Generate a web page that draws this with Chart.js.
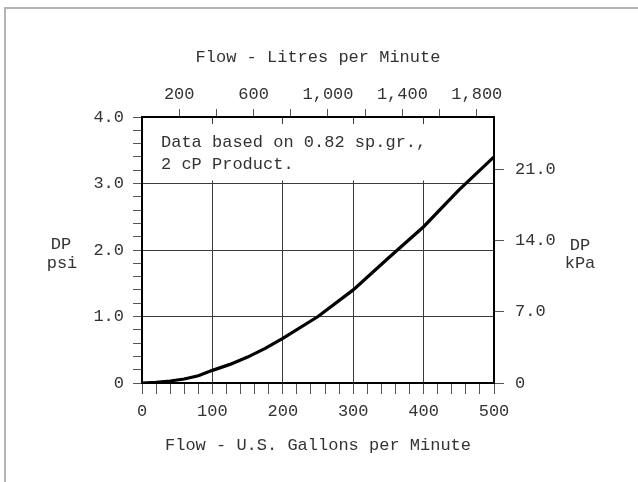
<!DOCTYPE html>
<html>
<head>
<meta charset="utf-8">
<script src="https://cdn.jsdelivr.net/npm/chart.js@4.4.1/dist/chart.umd.min.js"></script>
<style>
  html, body { margin: 0; padding: 0; background: #fff; overflow: hidden; }
  #wrap { position: relative; width: 638px; height: 482px; }
  #frame { position: absolute; left: 4px; top: 7px; width: 700px; height: 600px;
           border-top: 2px solid #b4b4b4; border-left: 2px solid #b4b4b4; }
  #chart { position: absolute; left: 0; top: 0; }
</style>
</head>
<body>
<div id="wrap">
  <div id="frame"></div>
  <canvas id="chart" width="638" height="482"></canvas>
</div>
<script>
// flow in US gallons per minute vs pressure drop in psi
const flowGpm = [0, 20, 40, 60, 80, 100, 125, 150, 175, 200, 250, 300, 350, 400, 450, 500];
const dpPsi   = [0, 0.01, 0.03, 0.06, 0.11, 0.19, 0.28, 0.39, 0.52, 0.67, 1.0, 1.40, 1.88, 2.35, 2.90, 3.40];

// tick labels
const gpmLabels = [0, 100, 200, 300, 400, 500];
const psiLabels = [0, 1, 2, 3, 4];
const lpmTicks  = [200, 400, 600, 800, 1000, 1200, 1400, 1600, 1800];
const lpmLabels = [200, 600, 1000, 1400, 1800];
const kpaTicks  = [0, 7, 14, 21];

const gpmMinorStep = 20;
const psiMinorStep = 0.2;
const LPM_PER_GPM = 3.785;
const KPA_MAX = 26.2;

const noteLines = ['Data based on 0.82 sp.gr.,', '2 cP Product.'];
const leftTitle = ['DP', 'psi'];
const rightTitle = ['DP', 'kPa'];

const FONT = "'Liberation Mono', 'DejaVu Sans Mono', monospace";
const TEXT = '#333';
const GRID = '#3a3a3a';

function steps(max, step) {
    const out = [];
    for (let v = 0; v <= max + 1e-9; v += step) out.push(Math.round(v * 100) / 100);
    return out;
}
const gpmTicks = steps(500, gpmMinorStep);
const psiTicks = steps(4, psiMinorStep);

const isIn = (list, v) => list.some((l) => Math.abs(l - v) < 1e-6);

// white note box that hides the grid above the 3.0 line, curve is drawn over it
const noteBoxPlugin = {
    id: 'noteBox',
    beforeDatasetsDraw(chart) {
        const { ctx, chartArea } = chart;
        const y3 = chart.scales.y.getPixelForValue(3);
        ctx.save();
        ctx.fillStyle = '#fff';
        ctx.fillRect(chartArea.left + 2, chartArea.top + 7, chartArea.right - chartArea.left - 4, y3 - chartArea.top - 10);
        ctx.restore();
    }
};

const notesPlugin = {
    id: 'notes',
    afterDraw(chart) {
        const ctx = chart.ctx;
        ctx.save();
        ctx.fillStyle = TEXT;
        ctx.font = '17px ' + FONT;
        ctx.textBaseline = 'alphabetic';
        ctx.textAlign = 'left';
        ctx.fillText(noteLines[0], 161, 147);
        ctx.fillText(noteLines[1], 161, 169);
        ctx.textAlign = 'center';
        ctx.fillText(leftTitle[0], 61, 249);
        ctx.fillText(leftTitle[1], 62, 268);
        ctx.fillText(rightTitle[0], 580, 250);
        ctx.fillText(rightTitle[1], 580, 268);
        ctx.restore();
    }
};

const tickFont = { family: FONT, size: 17 };

new Chart(document.getElementById('chart'), {
    type: 'line',
    data: {
        datasets: [{
            data: flowGpm.map((x, i) => ({ x: x, y: dpPsi[i] })),
            borderColor: '#000',
            borderWidth: 3.2,
            pointRadius: 0,
            tension: 0,
            fill: false
        }]
    },
    options: {
        responsive: false,
        animation: false,
        layout: { padding: 0 },
        plugins: {
            legend: { display: false },
            tooltip: { enabled: false }
        },
        scales: {
            x: {
                type: 'linear',
                position: 'bottom',
                min: 0,
                max: 500,
                afterBuildTicks: (scale) => { scale.ticks = gpmTicks.map((v) => ({ value: v })); },
                afterFit: (scale) => { scale.height = 99; },
                border: { color: '#000', width: 2 },
                grid: {
                    color: (c) => (c.tick && isIn(gpmLabels, c.tick.value) && c.tick.value > 0 && c.tick.value < 500) ? GRID : 'rgba(0,0,0,0)',
                    tickColor: '#555',
                    tickLength: 11,
                    lineWidth: 1
                },
                ticks: {
                    autoSkip: false,
                    maxRotation: 0,
                    padding: 7,
                    color: TEXT,
                    font: tickFont,
                    callback: (v) => isIn(gpmLabels, v) ? String(v) : ''
                },
                title: {
                    display: true,
                    text: 'Flow - U.S. Gallons per Minute',
                    color: TEXT,
                    font: tickFont,
                    padding: { top: 0, bottom: 26 }
                }
            },
            x2: {
                type: 'linear',
                position: 'top',
                min: 0,
                max: 500 * LPM_PER_GPM,
                afterBuildTicks: (scale) => { scale.ticks = lpmTicks.map((v) => ({ value: v })); },
                afterFit: (scale) => { scale.height = 117; },
                border: { color: '#000', width: 2 },
                grid: {
                    drawOnChartArea: false,
                    tickColor: '#555',
                    tickLength: 8
                },
                ticks: {
                    autoSkip: false,
                    maxRotation: 0,
                    padding: 4,
                    color: TEXT,
                    font: tickFont,
                    callback: (v) => isIn(lpmLabels, v) ? v.toLocaleString('en-US') : ''
                },
                title: {
                    display: true,
                    text: 'Flow - Litres per Minute',
                    color: TEXT,
                    font: tickFont,
                    padding: { top: 47, bottom: 0 }
                }
            },
            y: {
                type: 'linear',
                position: 'left',
                min: 0,
                max: 4,
                afterBuildTicks: (scale) => { scale.ticks = psiTicks.map((v) => ({ value: v })); },
                afterFit: (scale) => { scale.width = 142; },
                border: { color: '#000', width: 2 },
                grid: {
                    color: (c) => (c.tick && isIn(psiLabels, c.tick.value) && c.tick.value > 0 && c.tick.value < 4) ? GRID : 'rgba(0,0,0,0)',
                    tickColor: '#555',
                    tickLength: 9,
                    lineWidth: 1
                },
                ticks: {
                    autoSkip: false,
                    padding: 9,
                    color: TEXT,
                    font: tickFont,
                    callback: (v) => isIn(psiLabels, v) ? (v === 0 ? '0' : v.toFixed(1)) : ''
                }
            },
            y2: {
                type: 'linear',
                position: 'right',
                min: 0,
                max: KPA_MAX,
                afterBuildTicks: (scale) => { scale.ticks = kpaTicks.map((v) => ({ value: v })); },
                afterFit: (scale) => { scale.width = 144; },
                border: { color: '#000', width: 2 },
                grid: {
                    drawOnChartArea: false,
                    tickColor: '#555',
                    tickLength: 10
                },
                ticks: {
                    autoSkip: false,
                    padding: 11,
                    color: TEXT,
                    font: tickFont,
                    callback: (v) => v === 0 ? '0' : v.toFixed(1)
                }
            }
        }
    },
    plugins: [noteBoxPlugin, notesPlugin]
});
</script>
</body>
</html>
